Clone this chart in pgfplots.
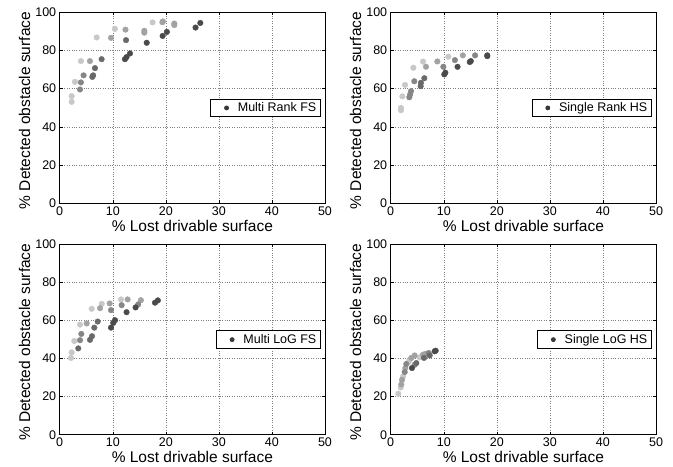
\documentclass[border=0pt]{standalone}
\usepackage{pgfplots}
\pgfplotsset{compat=1.18}
\usepackage{fontspec}
\setmainfont{Liberation Sans}
\definecolor{cL}{HTML}{C8C8C8}
\definecolor{cM}{HTML}{A2A2A2}
\definecolor{cMD}{HTML}{868686}
\definecolor{cD}{HTML}{696969}
\definecolor{cDD}{HTML}{4A4A4A}
\definecolor{legdot}{HTML}{383838}
\newcommand{\ticksize}{\fontsize{12.5bp}{15bp}\selectfont}
\newcommand{\labelsize}{\fontsize{15.5bp}{18bp}\selectfont}
\pgfplotsset{
  myax/.style={
    scale only axis, width=265.3bp, height=190.5bp, anchor=south west,
    xmin=0, xmax=50, ymin=0, ymax=100,
    xtick={0,10,...,50}, ytick={0,20,...,100},
    grid=major, major grid style={dotted, black!50, line width=0.5bp},
    tick align=inside, major tick length=3bp, tick style={black, line width=0.5bp},
    axis line style={black, line width=0.7bp},
    ticklabel style={font=\ticksize},
    /pgf/number format/assume math mode=true,
    xlabel={\% Lost drivable surface},
    ylabel={\% Detected obstacle surface},
    label style={font=\labelsize},
    xlabel style={at={(axis description cs:0.5,-0.147)}, anchor=base},
    ylabel style={at={(axis description cs:-0.132,0.485)}, anchor=center},
    legend style={at={(rel axis cs:0.984,0.499)}, anchor=east, draw=black, line width=0.8bp,
      inner xsep=2bp, inner ysep=1.5bp, nodes={inner sep=2bp}, font=\ticksize},
    legend image code/.code={\path[draw=none] (0bp,0bp) -- (23bp,0bp); \path[#1, draw=none] plot coordinates {(13.7bp,0bp)};},
  },
  pts/.style={only marks, mark=*, mark size=2.8bp, color=#1, forget plot},
  legmark/.style={only marks, mark=*, mark size=2bp, color=legdot, mark options={draw=none, fill=legdot}},
}
\begin{document}
\begin{tikzpicture}
\useasboundingbox (0,0) rectangle (673bp,467bp);
% Panel 1: Multi Rank FS
\begin{axis}[myax, at={(59.7bp,264bp)}]
\addplot[pts=cL] coordinates {(2.26,53.1)(2.26,56.1)(2.88,63.6)(4.0,74.5)(6.97,86.9)(10.4,91.4)(17.5,94.8)};
\addplot[pts=cM] coordinates {(5.7,74.5)(9.67,86.7)(12.4,91.0)(15.95,90.4)(15.95,89.4)(19.35,94.9)(19.45,95.3)(21.6,94.2)(21.6,93.4)};
\addplot[pts=cMD] coordinates {(3.83,59.6)(4.0,63.3)(4.5,67.0)};
\addplot[pts=cD] coordinates {(6.15,66.2)(6.3,67.0)(6.65,70.8)(7.9,75.5)(12.5,85.5)};
\addplot[pts=cDD] coordinates {(12.3,75.5)(12.6,76.6)(13.25,78.5)(16.4,84.1)(19.4,87.7)(20.2,89.8)(25.6,92.1)(26.5,94.5)};
\addlegendimage{legmark}
\addlegendentry{Multi Rank FS}
\end{axis}
% Panel 2: Single Rank HS
\begin{axis}[myax, at={(390.7bp,264bp)}]
\addplot[pts=cL] coordinates {(1.94,49.9)(1.94,48.7)(2.19,56.0)(2.70,62.0)(4.27,71.0)(6.09,74.2)(10.86,76.8)};
\addplot[pts=cM] coordinates {(6.65,71.5)(8.79,74.3)(13.6,77.5)};
\addplot[pts=cMD] coordinates {(3.64,56.9)(3.51,55.5)(3.83,58.7)(4.45,63.9)(9.92,71.5)(12.1,75.0)(15.9,77.5)};
\addplot[pts=cD] coordinates {(5.65,61.3)(5.7,63.1)(6.34,65.5)};
\addplot[pts=cDD] coordinates {(10.1,67.5)(10.3,68.4)(12.6,71.5)(14.9,74.0)(15.1,74.5)(18.2,77.5)(18.2,77.1)};
\addlegendimage{legmark}
\addlegendentry{Single Rank HS}
\end{axis}
% Panel 3: Multi LoG FS
\begin{axis}[myax, at={(59.7bp,32.3bp)}]
\addplot[pts=cL] coordinates {(2.13,40.3)(2.26,43.2)(2.75,49.2)(3.83,57.8)(6.03,66.1)(7.92,68.7)(11.55,71.0)};
\addplot[pts=cM] coordinates {(5.09,58.4)(7.6,66.4)(9.42,68.9)(12.8,71.0)(15.3,70.6)};
\addplot[pts=cMD] coordinates {(3.83,49.6)(4.07,52.9)(9.67,65.4)(11.68,68.0)(14.8,68.4)};
\addplot[pts=cD] coordinates {(3.5,45.3)(5.71,49.8)(6.09,51.7)(6.52,56.2)(7.16,59.4)};
\addplot[pts=cDD] coordinates {(9.67,56.2)(10.1,58.7)(10.42,60.1)(12.6,64.3)(14.3,66.8)(17.96,69.3)(18.5,70.5)};
\addlegendimage{legmark}
\addlegendentry{Multi LoG FS}
\end{axis}
% Panel 4: Single LoG HS
\begin{axis}[myax, at={(390.7bp,32.3bp)}]
\addplot[pts=cL] coordinates {(1.45,21.5)(1.88,24.8)(2.32,30.6)(3.39,38.2)(3.58,39.4)(5.46,40.6)};
\addplot[pts=cM] coordinates {(2.0,26.4)(2.13,28.8)(2.75,35.0)(3.89,40.3)(4.52,41.6)(6.09,42.0)(6.52,42.4)};
\addplot[pts=cMD] coordinates {(2.64,32.9)(2.94,37.1)(4.52,36.7)(7.16,42.9)};
\addplot[pts=cD] coordinates {(4.83,37.6)(6.28,40.3)(7.35,41.6)};
\addplot[pts=cDD] coordinates {(4.01,35.0)(8.29,43.8)(8.48,44.1)};
\addlegendimage{legmark}
\addlegendentry{Single LoG HS}
\end{axis}
\end{tikzpicture}
\end{document}
